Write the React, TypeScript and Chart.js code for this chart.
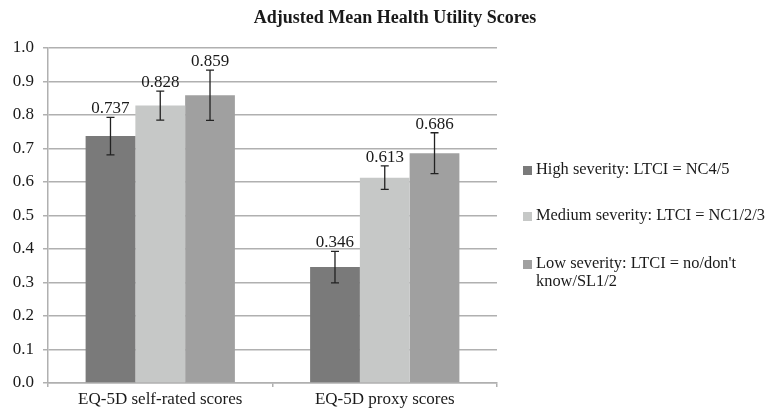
import React, { useEffect, useRef } from 'react';
import { Chart, registerables } from 'chart.js';

Chart.register(...registerables);

const chartTitle = 'Adjusted Mean Health Utility Scores';
const categories = ['EQ-5D self-rated scores', 'EQ-5D proxy scores'];
const seriesNames = [
  'High severity: LTCI = NC4/5',
  'Medium severity: LTCI = NC1/2/3',
  "Low severity: LTCI = no/don't know/SL1/2",
];
const legendLines = [
  ['High severity: LTCI = NC4/5'],
  ['Medium severity: LTCI = NC1/2/3'],
  ["Low severity: LTCI = no/don't", 'know/SL1/2'],
];
const highValues = [0.737, 0.346];
const mediumValues = [0.828, 0.613];
const lowValues = [0.859, 0.686];
const highErrLow = [0.681, 0.299];
const highErrHigh = [0.793, 0.393];
const mediumErrLow = [0.785, 0.578];
const mediumErrHigh = [0.871, 0.648];
const lowErrLow = [0.784, 0.625];
const lowErrHigh = [0.934, 0.747];
const yMin = 0;
const yMax = 1;
const yStep = 0.1;

const seriesColors = ['#7a7a7a', '#c6c8c7', '#a0a0a0'];
const FONT = "'Liberation Serif', 'Times New Roman', serif";
const GRID = '#b0b0b0';
const TEXT = '#1a1a1a';

const seriesValues = [highValues, mediumValues, lowValues];
const seriesErrLow = [highErrLow, mediumErrLow, lowErrLow];
const seriesErrHigh = [highErrHigh, mediumErrHigh, lowErrHigh];

const overlayPlugin = {
  id: 'overlay',
  afterDatasetsDraw(chart: any) {
    const ctx = chart.ctx;
    const y = chart.scales.y;
    ctx.save();
    chart.data.datasets.forEach((ds: any, di: number) => {
      const meta = chart.getDatasetMeta(di);
      meta.data.forEach((bar: any, i: number) => {
        const x = bar.x;
        const lo = y.getPixelForValue(seriesErrLow[di][i]);
        const hi = y.getPixelForValue(seriesErrHigh[di][i]);
        ctx.strokeStyle = '#222';
        ctx.lineWidth = 1.3;
        ctx.beginPath();
        ctx.moveTo(x, lo);
        ctx.lineTo(x, hi);
        ctx.moveTo(x - 4, lo);
        ctx.lineTo(x + 4, lo);
        ctx.moveTo(x - 4, hi);
        ctx.lineTo(x + 4, hi);
        ctx.stroke();
        ctx.fillStyle = TEXT;
        ctx.font = `17px ${FONT}`;
        ctx.textAlign = 'center';
        ctx.textBaseline = 'alphabetic';
        ctx.fillText(ds.data[i].toFixed(3), x, hi - 4);
      });
    });
    ctx.restore();
  },
  afterDraw(chart: any) {
    const ctx = chart.ctx;
    ctx.save();
    ctx.fillStyle = TEXT;
    ctx.font = `bold 18px ${FONT}`;
    ctx.textAlign = 'center';
    ctx.textBaseline = 'alphabetic';
    ctx.fillText(chartTitle, 395, 23);
    const centers = [170, 216, 264];
    ctx.font = `16.4px ${FONT}`;
    ctx.textAlign = 'left';
    ctx.textBaseline = 'middle';
    legendLines.forEach((lines, i) => {
      const cy = centers[i];
      ctx.fillStyle = seriesColors[i];
      ctx.fillRect(523, cy - 4, 9, 9);
      ctx.fillStyle = TEXT;
      lines.forEach((line, li) => {
        ctx.fillText(line, 536, cy + li * 18);
      });
    });
    ctx.restore();
  },
};

export default function App() {
  const ref = useRef<HTMLCanvasElement | null>(null);
  useEffect(() => {
    if (!ref.current) return;
    const chart = new Chart(ref.current, {
      type: 'bar',
      data: {
        labels: categories,
        datasets: seriesNames.map((name, i) => ({
          label: name,
          data: seriesValues[i],
          backgroundColor: seriesColors[i],
          borderWidth: 0,
          categoryPercentage: 0.665,
          barPercentage: 1.0,
        })),
      },
      options: {
        animation: false,
        responsive: true,
        maintainAspectRatio: false,
        layout: { padding: { top: 48, right: 275, left: 0, bottom: 0 } },
        plugins: {
          legend: { display: false },
          title: { display: false },
          tooltip: { enabled: false },
        },
        scales: {
          x: {
            grid: {
              display: true,
              drawOnChartArea: false,
              drawTicks: true,
              tickLength: 4,
              color: GRID,
              lineWidth: 1.5,
            },
            border: { display: true, color: GRID, width: 1.5 },
            ticks: {
              color: TEXT,
              font: { family: FONT, size: 17 },
              padding: 2,
            },
            afterFit(scale: any) {
              scale.height = 29;
            },
          },
          y: {
            min: yMin,
            max: yMax,
            grid: {
              color: GRID,
              lineWidth: 1.5,
              drawTicks: true,
              tickLength: 5,
            },
            border: { display: true, color: GRID, width: 1.5 },
            ticks: {
              stepSize: yStep,
              color: TEXT,
              font: { family: FONT, size: 17 },
              padding: 9,
              callback: (v: any) => Number(v).toFixed(1),
            },
            afterFit(scale: any) {
              scale.width = 48;
            },
          },
        },
      },
      plugins: [overlayPlugin],
    });
    return () => chart.destroy();
  }, []);
  return (
    <div style={{ position: 'absolute', left: 0, top: 0, width: 772, height: 412, background: '#fff' }}>
      <canvas ref={ref} />
    </div>
  );
}
